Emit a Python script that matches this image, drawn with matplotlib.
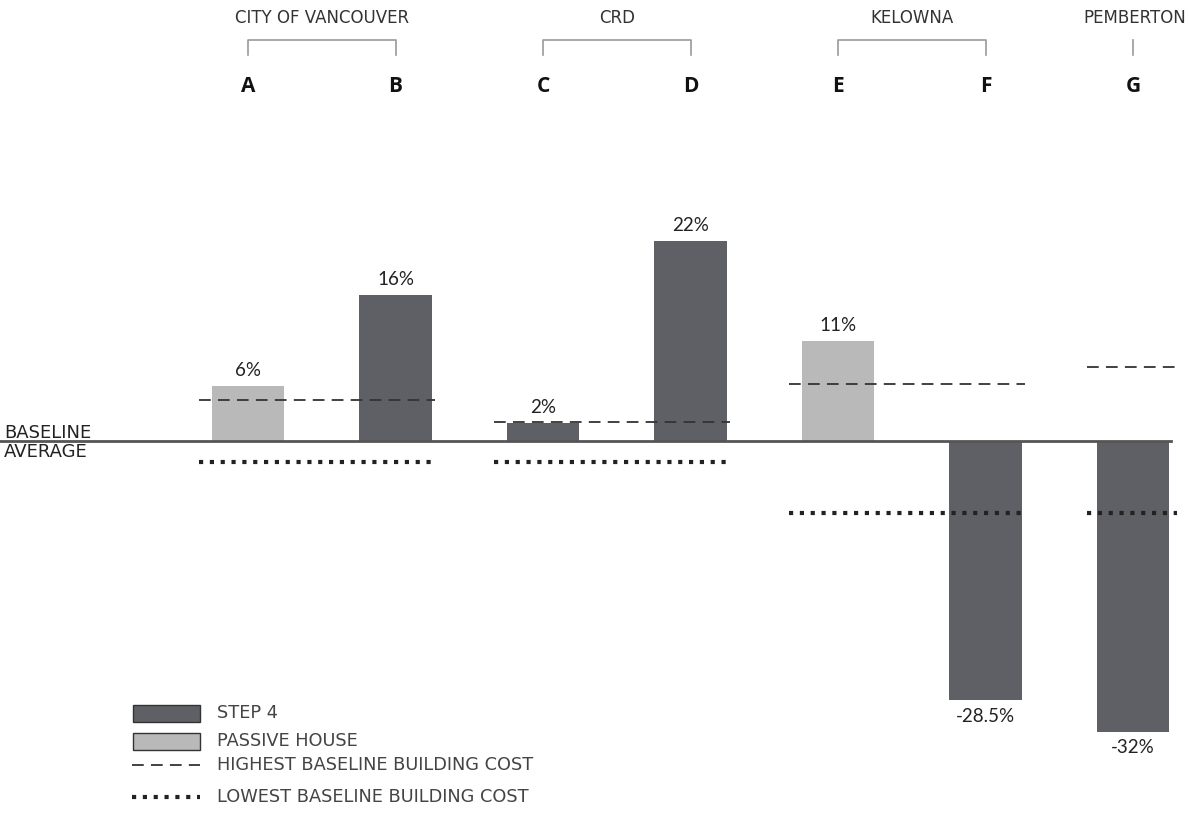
import matplotlib
matplotlib.use("Agg")
import matplotlib.pyplot as plt
from matplotlib.patches import Rectangle
from matplotlib.lines import Line2D

plt.rcParams['font.family'] = ['DejaVu Sans']

# ---- data ----
letters = ["A", "B", "C", "D", "E", "F", "G"]
values = [6, 16, 2, 22, 11, -28.5, -32]
value_labels = ["6%", "16%", "2%", "22%", "11%", "-28.5%", "-32%"]
kinds = ["passive", "step4", "step4", "step4", "passive", "step4", "step4"]
groups = ["CITY OF VANCOUVER", "CRD", "KELOWNA", "PEMBERTON"]
group_members = [(0, 1), (2, 3), (4, 5), (6, 6)]
highest_baseline = [4.5, 2.1, 6.3, 8.1]
lowest_baseline = [-2.3, -2.3, -7.9, -7.9]
legend_labels = ["STEP 4", "PASSIVE HOUSE", "HIGHEST BASELINE BUILDING COST",
                 "LOWEST BASELINE BUILDING COST"]

DARK = "#5f6065"
LIGHT = "#b9b9b9"
colors = {"step4": DARK, "passive": LIGHT}
DASH = (0, (6.5, 4))
DOT = (0, (1, 1.6))
LATO = ["Lato", "DejaVu Sans"]

W, H = 1190, 836
fig = plt.figure(figsize=(W / 100, H / 100), dpi=100)
ax = fig.add_axes([0, 0, 1, 1])
ax.axis("off")

# pixel mapping: x index 0 -> 248px, step 147.5 px; y 0 -> 441px, 9.1 px per %
x0, dx = 248.0, 147.5
y0, dy = 441.0, 9.1
ax.set_xlim((0 - x0) / dx, (W - x0) / dx)
ax.set_ylim((y0 - H) / dy, y0 / dy)

def fy(px):  # figure fraction from top pixel
    return 1 - px / H

def fx(px):
    return px / W

xs = list(range(len(letters)))
ax.bar(xs, values, width=0.49, color=[colors[k] for k in kinds], zorder=2)

# value labels
for x, v, lab in zip(xs, values, value_labels):
    if v >= 0:
        ax.text(x, v + 0.8, lab, ha="center", va="bottom", fontsize=13.5,
                color="#222", family=LATO)
    else:
        ax.text(x, v - 0.8, lab, ha="center", va="top", fontsize=13.5,
                color="#222", family=LATO)

# baseline
ax.plot([ax.get_xlim()[0], 6.26], [0, 0], color="#555555", lw=2, zorder=3)
ax.text(fx(4), fy(438), "BASELINE", transform=fig.transFigure, ha="left", va="baseline",
        fontsize=13, color="#222")
ax.text(fx(4), fy(457), "AVERAGE", transform=fig.transFigure, ha="left", va="baseline",
        fontsize=13, color="#222")

# highest / lowest baseline lines
for (a, b), hi, lo in zip(group_members, highest_baseline, lowest_baseline):
    xa, xb = a - 0.33, b + 0.27
    if a == b:
        xa, xb = a - 0.31, b + 0.30
    ax.plot([xa, xb], [hi, hi], color="#333", lw=1.3, linestyle=DASH, zorder=4)
    ax.plot([xa, xb], [lo, lo], color="#222", lw=3.0, linestyle=DOT, zorder=4)

# header: group names, brackets, letters
for name, (a, b) in zip(groups, group_members):
    px_c = x0 + (a + b) / 2 * dx
    if a == b:
        fig.text(fx(1186), fy(18), name, ha="right", va="center", fontsize=12,
                 color="#333")
    else:
        fig.text(fx(px_c), fy(18), name, ha="center", va="center", fontsize=12,
                 color="#333")
    pa, pb = x0 + a * dx, x0 + b * dx
    if a != b:
        fig.add_artist(Line2D([fx(pa), fx(pa), fx(pb), fx(pb)],
                              [fy(55), fy(40), fy(40), fy(55)], color="#9a9a9a", lw=1.2))
    else:
        fig.add_artist(Line2D([fx(pa), fx(pa)], [fy(55), fy(40)], color="#9a9a9a", lw=1.2))

for x, L in zip(xs, letters):
    fig.text(fx(x0 + x * dx), fy(87), L, ha="center", va="center", fontsize=15,
             fontweight="bold", color="#111", family=["Open Sans", "DejaVu Sans"])

# legend
fig.add_artist(Rectangle((fx(133), fy(722)), fx(67), 17 / H, facecolor=DARK,
                         edgecolor="#333", lw=1, transform=fig.transFigure))
fig.add_artist(Rectangle((fx(133), fy(750)), fx(67), 17 / H, facecolor=LIGHT,
                         edgecolor="#333", lw=1, transform=fig.transFigure))
fig.add_artist(Line2D([fx(132), fx(200)], [fy(765), fy(765)], color="#333", lw=1.3,
                      linestyle=DASH))
fig.add_artist(Line2D([fx(132), fx(200)], [fy(797), fy(797)], color="#222", lw=3.0,
                      linestyle=DOT))
for lab, py in zip(legend_labels, [713, 741, 765, 797]):
    fig.text(fx(217), fy(py), lab, ha="left", va="center", fontsize=12.8, color="#444")

fig.savefig("out.png", dpi=100)
